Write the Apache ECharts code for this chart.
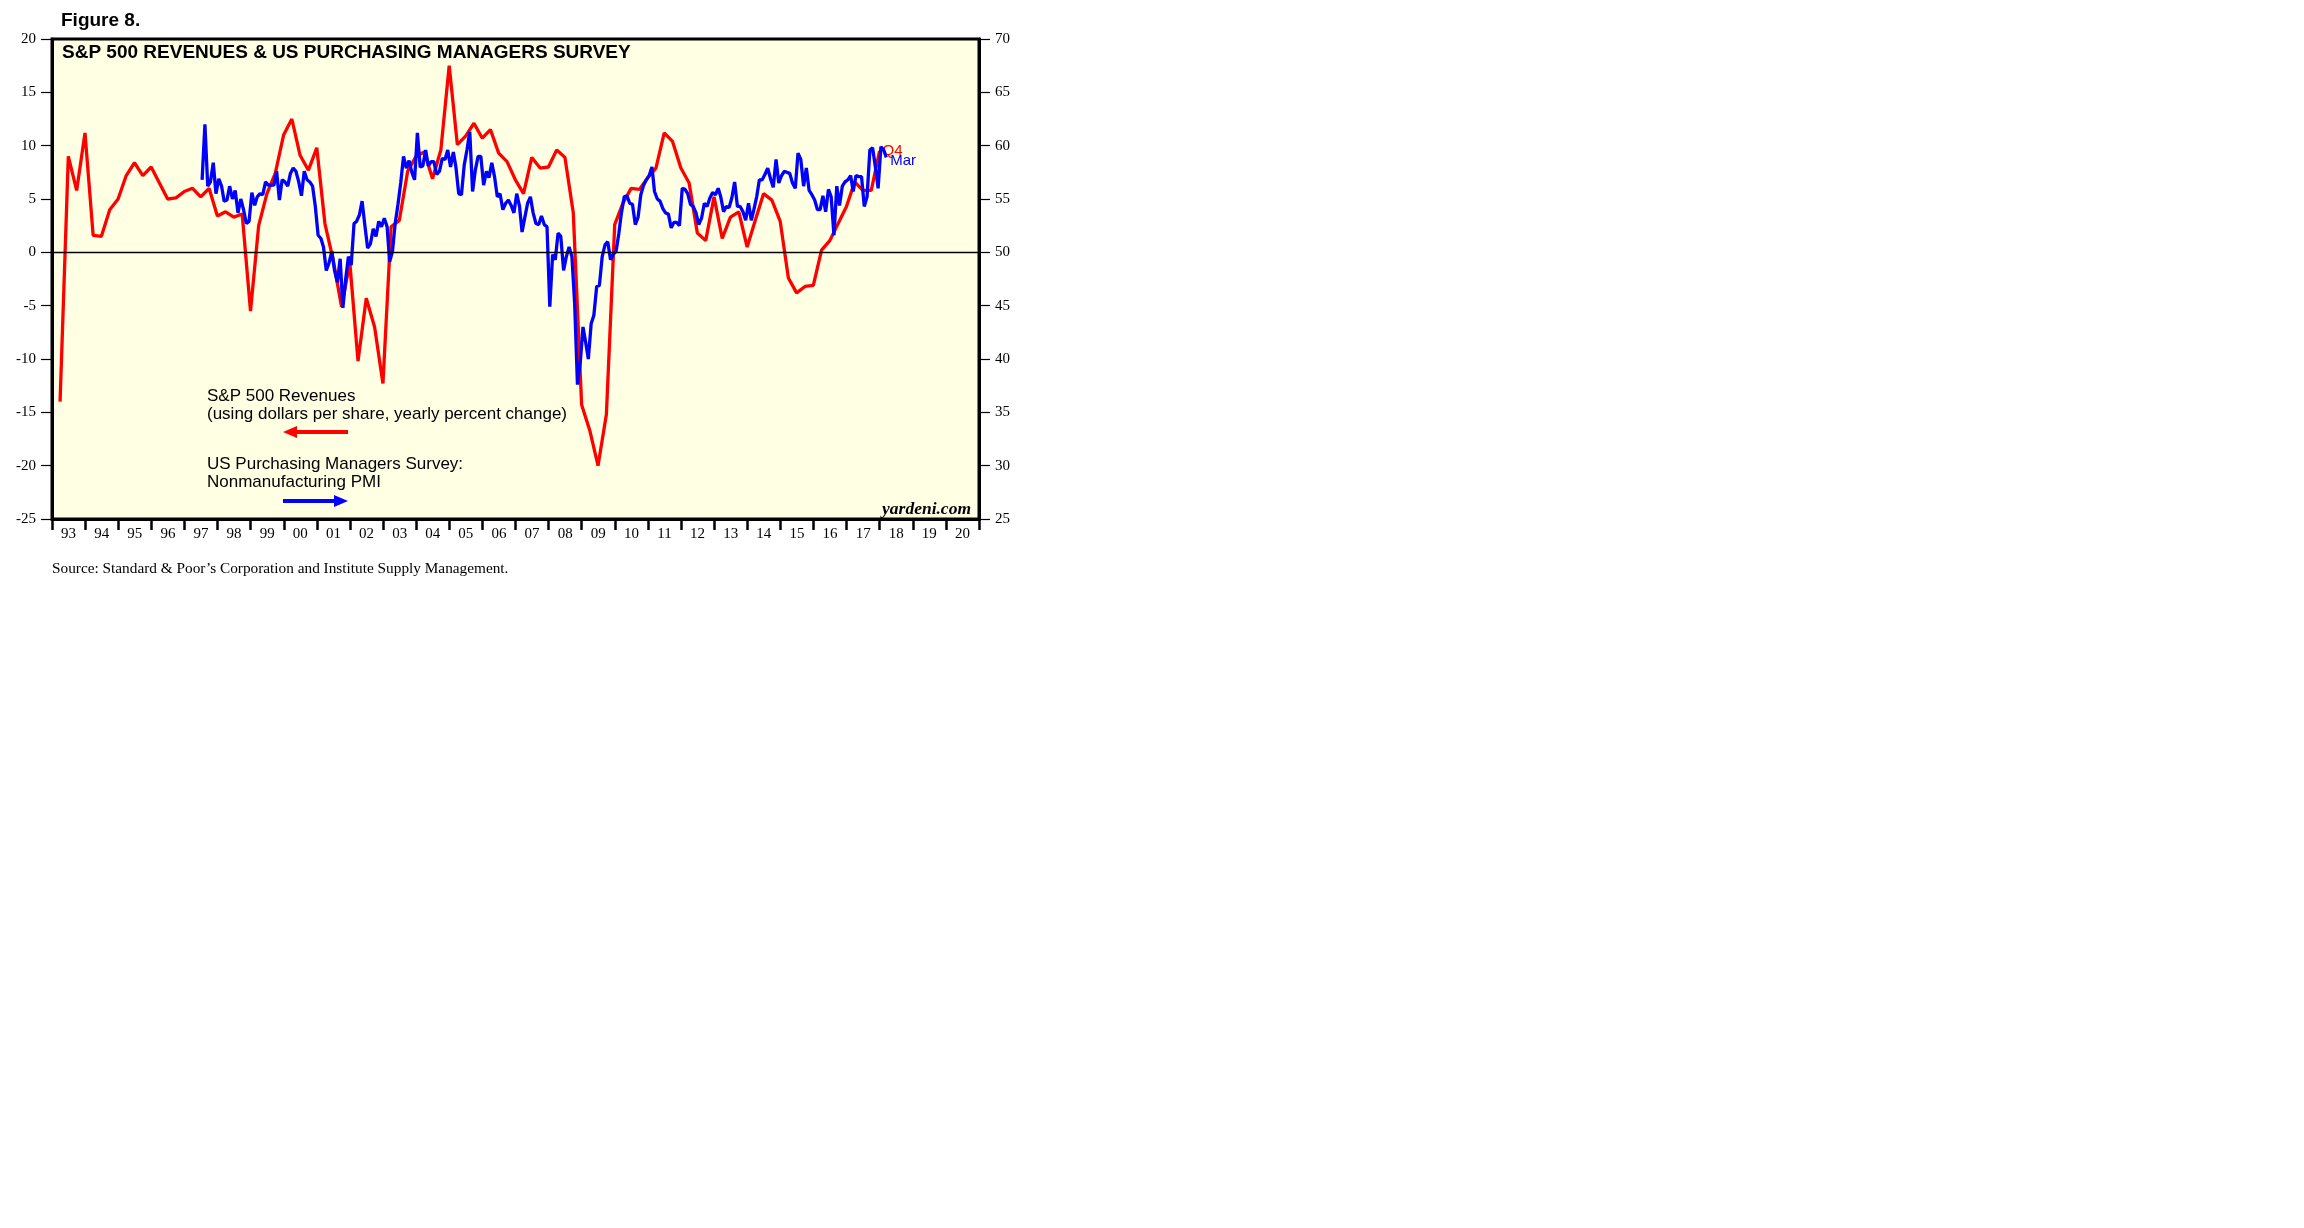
<!DOCTYPE html>
<html>
<head>
<meta charset="utf-8">
<script src="https://cdn.jsdelivr.net/npm/echarts@6/dist/echarts.min.js"></script>
<style>
html, body { margin: 0; padding: 0; background: #fff; }
#chart { width: 2304px; height: 1228px; }
</style>
</head>
<body>
<div id="chart"></div>
<script>
// year labels under the x axis, one per band
const yearLabels = ['93', '94', '95', '96', '97', '98', '99', '00', '01', '02', '03', '04', '05', '06',
  '07', '08', '09', '10', '11', '12', '13', '14', '15', '16', '17', '18', '19', '20'];

// S&P 500 revenues, yearly % change, quarterly from 1993 Q1
const revenueFirstYear = 1993;
const revenueGrowth = [
  -14.0, 9.0, 5.8, 11.2,
  1.6, 1.5, 4.0, 5.0,
  7.2, 8.4, 7.2, 8.0,
  6.5, 5.0, 5.1, 5.7,
  6.0, 5.2, 6.0, 3.4,
  3.8, 3.3, 3.6, -5.5,
  2.5, 5.5, 7.4, 11.0,
  12.5, 9.1, 7.7, 9.8,
  2.7, -0.7, -5.1, -1.0,
  -10.2, -4.3, -7.0, -12.3,
  2.4, 3.0, 7.6, 9.0,
  9.4, 6.9, 9.6, 17.5,
  10.1, 10.9, 12.1, 10.7,
  11.5, 9.3, 8.5, 6.8,
  5.5, 8.9, 7.9, 8.0,
  9.6, 8.9, 3.7, -14.3,
  -16.7, -20.0, -15.2, 2.6,
  4.6, 6.0, 5.9, 7.0,
  7.9, 11.2, 10.4, 7.9,
  6.5, 1.8, 1.1, 5.2,
  1.3, 3.3, 3.8, 0.5,
  3.0, 5.5, 4.9, 2.9,
  -2.4, -3.8, -3.2, -3.1,
  0.2, 1.1, 2.7, 4.3,
  6.6, 5.8, 5.8, 9.5
];

// ISM nonmanufacturing PMI, monthly from Jul 1997 to Mar 2018
const pmiFirstYear = 1997;
const pmiFirstMonth = 6; // July, 0-based
const pmiValues = [
  56.8, 62.0, 56.2, 56.6, 58.4, 55.5, 56.9, 56.2, 54.8, 54.9,
  56.2, 55.0, 55.8, 53.7, 55.0, 54.0, 52.7, 52.9, 55.6, 54.4,
  55.2, 55.5, 55.4, 56.6, 56.3, 56.3, 56.3, 57.6, 54.9, 56.8,
  56.6, 56.2, 57.4, 57.9, 57.6, 56.6, 55.3, 57.6, 56.8, 56.6,
  56.2, 54.3, 51.6, 51.3, 50.5, 48.3, 49.0, 50.1, 48.3, 47.2,
  49.4, 44.8, 47.5, 49.6, 48.8, 52.7, 52.9, 53.5, 54.8, 52.5,
  50.4, 50.8, 52.2, 51.5, 52.9, 52.4, 53.2, 52.4, 49.1, 50.1,
  52.7, 54.5, 56.5, 59.0, 57.9, 58.6, 57.5, 56.8, 61.2, 58.0,
  58.1, 59.6, 58.1, 58.5, 58.5, 57.3, 57.6, 58.8, 58.7, 59.6,
  58.0, 59.4, 58.0, 55.5, 55.4, 58.2, 59.6, 61.3, 55.7, 57.7,
  59.0, 59.0, 56.3, 57.6, 57.0, 58.4, 57.1, 55.2, 55.5, 54.0,
  54.6, 54.9, 54.4, 53.7, 55.5, 54.3, 51.9, 53.3, 54.6, 55.2,
  53.7, 52.7, 52.6, 53.4, 52.6, 52.4, 44.9, 49.8, 49.3, 51.8,
  51.5, 48.3, 49.6, 50.5, 49.6, 45.2, 37.6, 39.6, 43.0, 41.5,
  40.0, 43.3, 44.1, 46.8, 46.9, 49.6, 50.7, 51.0, 49.3, 49.8,
  50.1, 51.8, 53.7, 55.2, 55.3, 54.6, 54.5, 52.6, 53.3, 55.4,
  56.3, 56.8, 57.2, 58.0, 55.7, 55.0, 54.8, 54.1, 53.7, 53.6,
  52.3, 52.8, 52.8, 52.5, 56.0, 55.9, 55.5, 54.5, 54.3, 53.7,
  52.6, 53.2, 54.6, 54.3, 55.1, 55.6, 55.4, 56.0, 55.2, 53.8,
  54.3, 54.2, 55.1, 56.6, 54.3, 54.3, 53.8, 53.0, 54.6, 53.0,
  54.0, 55.2, 56.8, 56.8, 57.3, 57.9, 56.9, 56.1, 58.7, 56.5,
  57.2, 57.6, 57.5, 57.4, 56.5, 56.0, 59.3, 58.7, 56.2, 57.9,
  55.8, 55.4, 54.9, 54.0, 54.0, 55.3, 53.8, 55.9, 55.2, 51.6,
  56.2, 54.4, 56.2, 56.6, 56.8, 57.2, 55.7, 57.2, 57.1, 57.1,
  54.3, 55.2, 59.6, 59.8, 58.0, 56.0, 59.9, 59.6, 58.9
];

const revenueData = revenueGrowth.map((v, i) => {
  const y = revenueFirstYear + Math.floor(i / 4);
  const q = i % 4;
  return [Date.UTC(y, q * 3 + 3, 0), v];
});
const pmiData = pmiValues.map((v, i) => [Date.UTC(pmiFirstYear, pmiFirstMonth + i, 15), v]);

const chart = echarts.init(document.getElementById('chart'));
const serif = 'Liberation Serif';
const sans = 'Liberation Sans';

chart.setOption({
  animation: false,
  backgroundColor: '#fff',
  textStyle: { fontFamily: sans },
  grid: {
    left: 52, top: 39, right: 1325, bottom: 709,
    show: true,
    backgroundColor: '#ffffe3',
    borderColor: '#000',
    borderWidth: 3
  },
  xAxis: [
    {
      type: 'time',
      show: false,
      min: Date.UTC(1993, 0, 1),
      max: Date.UTC(2021, 0, 1)
    },
    {
      type: 'category',
      position: 'bottom',
      data: yearLabels,
      boundaryGap: true,
      axisLine: { show: true, lineStyle: { color: '#000', width: 3 } },
      axisTick: { show: true, length: 11, lineStyle: { color: '#000', width: 2.5 } },
      axisLabel: { interval: 0, margin: 8, color: '#000', fontFamily: serif, fontSize: 15 },
      splitLine: { show: false }
    }
  ],
  yAxis: [
    {
      type: 'value',
      position: 'left',
      min: -25, max: 20, interval: 5,
      axisLine: { show: true, lineStyle: { color: '#000', width: 3 } },
      axisTick: { show: true, length: 11, lineStyle: { color: '#000', width: 1.2 } },
      axisLabel: { margin: 16, color: '#000', fontFamily: serif, fontSize: 15 },
      splitLine: { show: false }
    },
    {
      type: 'value',
      position: 'right',
      min: 25, max: 70, interval: 5,
      axisLine: { show: true, lineStyle: { color: '#000', width: 3 } },
      axisTick: { show: true, length: 11, lineStyle: { color: '#000', width: 1.2 } },
      axisLabel: { margin: 16, color: '#000', fontFamily: serif, fontSize: 15 },
      splitLine: { show: false }
    }
  ],
  series: [
    {
      name: 'S&P 500 Revenues',
      type: 'line',
      xAxisIndex: 0,
      yAxisIndex: 0,
      data: revenueData,
      symbol: 'none',
      lineStyle: { color: '#ff0000', width: 3.3 },
      itemStyle: { color: '#ff0000' },
      endLabel: { show: true, formatter: 'Q4', color: '#ff0000', fontFamily: sans, fontSize: 15, distance: 3 },
      markLine: {
        silent: true,
        symbol: 'none',
        label: { show: false },
        lineStyle: { color: '#000', width: 1.3, type: 'solid' },
        data: [{ yAxis: 0 }]
      },
      z: 2
    },
    {
      name: 'Nonmanufacturing PMI',
      type: 'line',
      xAxisIndex: 0,
      yAxisIndex: 1,
      data: pmiData,
      symbol: 'none',
      lineStyle: { color: '#0000ff', width: 3.3 },
      itemStyle: { color: '#0000ff' },
      endLabel: { show: true, formatter: 'Mar', color: '#0000ff', fontFamily: sans, fontSize: 15, distance: 4, offset: [0, 3] },
      z: 3
    }
  ],
  graphic: [
    {
      type: 'text', x: 61, y: 21,
      style: { text: 'Figure 8.', font: 'bold 19px "Liberation Sans"', fill: '#000', textVerticalAlign: 'middle' }
    },
    {
      type: 'text', x: 62, y: 53,
      style: { text: 'S&P 500 REVENUES & US PURCHASING MANAGERS SURVEY', font: 'bold 19px "Liberation Sans"', fill: '#000', textVerticalAlign: 'middle' },
      z: 10
    },
    {
      type: 'text', x: 207, y: 388,
      style: {
        text: 'S&P 500 Revenues\n(using dollars per share, yearly percent change)',
        font: '17px "Liberation Sans"', lineHeight: 17.5, fill: '#000', textVerticalAlign: 'top'
      },
      z: 10
    },
    {
      type: 'line', z: 10,
      shape: { x1: 293, y1: 432, x2: 348, y2: 432 },
      style: { stroke: '#ff0000', lineWidth: 4 }
    },
    {
      type: 'polygon', z: 10,
      shape: { points: [[283, 432], [297, 426], [297, 438]] },
      style: { fill: '#ff0000' }
    },
    {
      type: 'text', x: 207, y: 456,
      style: {
        text: 'US Purchasing Managers Survey:\nNonmanufacturing PMI',
        font: '17px "Liberation Sans"', lineHeight: 17.5, fill: '#000', textVerticalAlign: 'top'
      },
      z: 10
    },
    {
      type: 'line', z: 10,
      shape: { x1: 283, y1: 501, x2: 338, y2: 501 },
      style: { stroke: '#0000ff', lineWidth: 4 }
    },
    {
      type: 'polygon', z: 10,
      shape: { points: [[348, 501], [334, 495], [334, 507]] },
      style: { fill: '#0000ff' }
    },
    {
      type: 'text', x: 971, y: 509, z: 10,
      style: { text: 'yardeni.com', font: 'italic bold 17.5px "Liberation Serif"', fill: '#000', textAlign: 'right', textVerticalAlign: 'middle' }
    },
    {
      type: 'text', x: 52, y: 569,
      style: { text: 'Source: Standard & Poor\u2019s Corporation and Institute Supply Management.', font: '15.3px "Liberation Serif"', fill: '#000', textVerticalAlign: 'middle' }
    }
  ]
});
</script>
</body>
</html>
